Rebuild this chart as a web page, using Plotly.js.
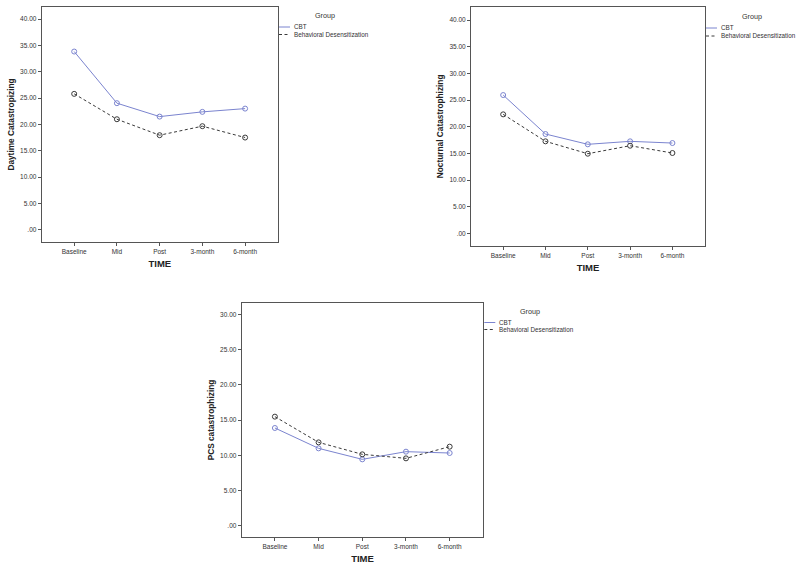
<!DOCTYPE html>
<html>
<head>
<meta charset="utf-8">
<script src="https://cdn.plot.ly/plotly-3.0.1.min.js"></script>
<style>
html,body{margin:0;padding:0;background:#fff;}
#chart{width:800px;height:569px;}
</style>
</head>
<body>
<div id="chart"></div>
<script>
// ---- data ----
const times = ['Baseline', 'Mid', 'Post', '3-month', '6-month'];
const groupNames = ['CBT', 'Behavioral Desensitization'];
const daytimeCBT = [33.84, 24.03, 21.48, 22.38, 23.00];
const daytimeBD = [25.80, 20.98, 17.95, 19.66, 17.50];
const nocturnalCBT = [25.93, 18.62, 16.69, 17.25, 16.93];
const nocturnalBD = [22.31, 17.25, 14.93, 16.43, 15.06];
const pcsCBT = [13.87, 10.98, 9.42, 10.51, 10.32];
const pcsBD = [15.48, 11.83, 10.13, 9.56, 11.22];
const yTickVals40 = [0, 5, 10, 15, 20, 25, 30, 35, 40];
const yTickText40 = ['.00', '5.00', '10.00', '15.00', '20.00', '25.00', '30.00', '35.00', '40.00'];
const yTickVals30 = [0, 5, 10, 15, 20, 25, 30];
const yTickText30 = ['.00', '5.00', '10.00', '15.00', '20.00', '25.00', '30.00'];
const yTitles = ['Daytime Catastropizing', 'Nocturnal Catastrophizing', 'PCS catastrophizing'];
const xTitle = 'TIME';
const legendTitle = 'Group';

// ---- styles ----
const FONT = 'Liberation Sans, Arial, sans-serif';
const cbtColor = '#7b84cf';
const bdColor = '#3a3a3a';
const axisColor = '#555555';

function pair(xa, ya, cbt, bd) {
  return [
    {x: times, y: cbt, xaxis: xa, yaxis: ya, type: 'scatter', mode: 'lines+markers', name: groupNames[0],
     showlegend: false, line: {color: cbtColor, width: 1},
     marker: {symbol: 'circle-open', size: 5, color: cbtColor, line: {width: 1, color: cbtColor}}},
    {x: times, y: bd, xaxis: xa, yaxis: ya, type: 'scatter', mode: 'lines+markers', name: groupNames[1],
     showlegend: false, line: {color: bdColor, width: 1, dash: '3px,2.5px'},
     marker: {symbol: 'circle-open', size: 5, color: bdColor, line: {width: 1, color: bdColor}}}
  ];
}

const data = [].concat(
  pair('x', 'y', daytimeCBT, daytimeBD),
  pair('x2', 'y2', nocturnalCBT, nocturnalBD),
  pair('x3', 'y3', pcsCBT, pcsBD)
);

const W = 800, H = 569;
function px(v) { return v / W; }
function py(v) { return 1 - v / H; }

function xAxis(dom, anchor) {
  return {
    domain: dom, anchor: anchor, type: 'category', range: [-0.76, 4.77],
    showline: true, linecolor: axisColor, linewidth: 1, mirror: true,
    ticks: 'outside', ticklen: 3, tickcolor: axisColor, tickwidth: 1,
    tickfont: {family: FONT, size: 6.5, color: '#333'},
    showgrid: false, zeroline: false, fixedrange: true,
    title: {text: xTitle, standoff: 6, font: {family: FONT, size: 9.5, color: '#222', weight: 'bold'}}
  };
}
function yAxis(dom, anchor, range, vals, text, title) {
  return {
    domain: dom, anchor: anchor, range: range,
    showline: true, linecolor: axisColor, linewidth: 1, mirror: true,
    ticks: 'outside', ticklen: 3, tickcolor: axisColor, tickwidth: 1,
    tickvals: vals, ticktext: text,
    tickfont: {family: FONT, size: 6.5, color: '#333'},
    showgrid: false, zeroline: false, fixedrange: true,
    title: {text: title, standoff: 4, font: {family: FONT, size: 8.3, color: '#222', weight: 'bold'}}
  };
}

// plot boxes in pixels [left, right, top, bottom]
const boxes = [
  [41.7, 278, 7, 242],
  [471, 705, 7, 245.7],
  [241.7, 483.3, 302.7, 537.3]
];

const layout = {
  width: W, height: H,
  margin: {l: 0, r: 0, t: 0, b: 0},
  paper_bgcolor: '#fff', plot_bgcolor: '#fff',
  showlegend: false,
  xaxis: xAxis([px(boxes[0][0]), px(boxes[0][1])], 'y'),
  yaxis: yAxis([py(boxes[0][3]), py(boxes[0][2])], 'x', [-2.34, 42.3], yTickVals40, yTickText40, yTitles[0]),
  xaxis2: xAxis([px(boxes[1][0]), px(boxes[1][1])], 'y2'),
  yaxis2: yAxis([py(boxes[1][3]), py(boxes[1][2])], 'x2', [-2.32, 42.44], yTickVals40, yTickText40, yTitles[1]),
  xaxis3: xAxis([px(boxes[2][0]), px(boxes[2][1])], 'y3'),
  yaxis3: yAxis([py(boxes[2][3]), py(boxes[2][2])], 'x3', [-1.65, 31.66], yTickVals30, yTickText30, yTitles[2]),
  shapes: [],
  annotations: []
};

// legends (SPSS style, beside each plot box)
const legendRows = [[27, 34.5], [28, 36], [322.5, 329.5]];
const groupY = [15.5, 16.5, 311];
boxes.forEach(function (b, i) {
  const r = b[1];
  layout.annotations.push({xref: 'paper', yref: 'paper', x: px(r + 35), y: py(groupY[i]),
    xanchor: 'left', yanchor: 'middle', showarrow: false, text: legendTitle,
    font: {family: FONT, size: 7.2, color: '#333'}});
  const styles = [{color: cbtColor, width: 1}, {color: bdColor, width: 1, dash: '3px,2.5px'}];
  for (let k = 0; k < 2; k++) {
    layout.shapes.push({type: 'line', xref: 'paper', yref: 'paper',
      x0: px(r + 1), x1: px(r + 12), y0: py(legendRows[i][k]), y1: py(legendRows[i][k]), line: styles[k]});
    layout.annotations.push({xref: 'paper', yref: 'paper', x: px(r + 13.5), y: py(legendRows[i][k]),
      xanchor: 'left', yanchor: 'middle', showarrow: false, text: groupNames[k],
      font: {family: FONT, size: 6.3, color: '#333'}});
  }
});

Plotly.newPlot('chart', data, layout, {displayModeBar: false, staticPlot: true});
</script>
</body>
</html>
